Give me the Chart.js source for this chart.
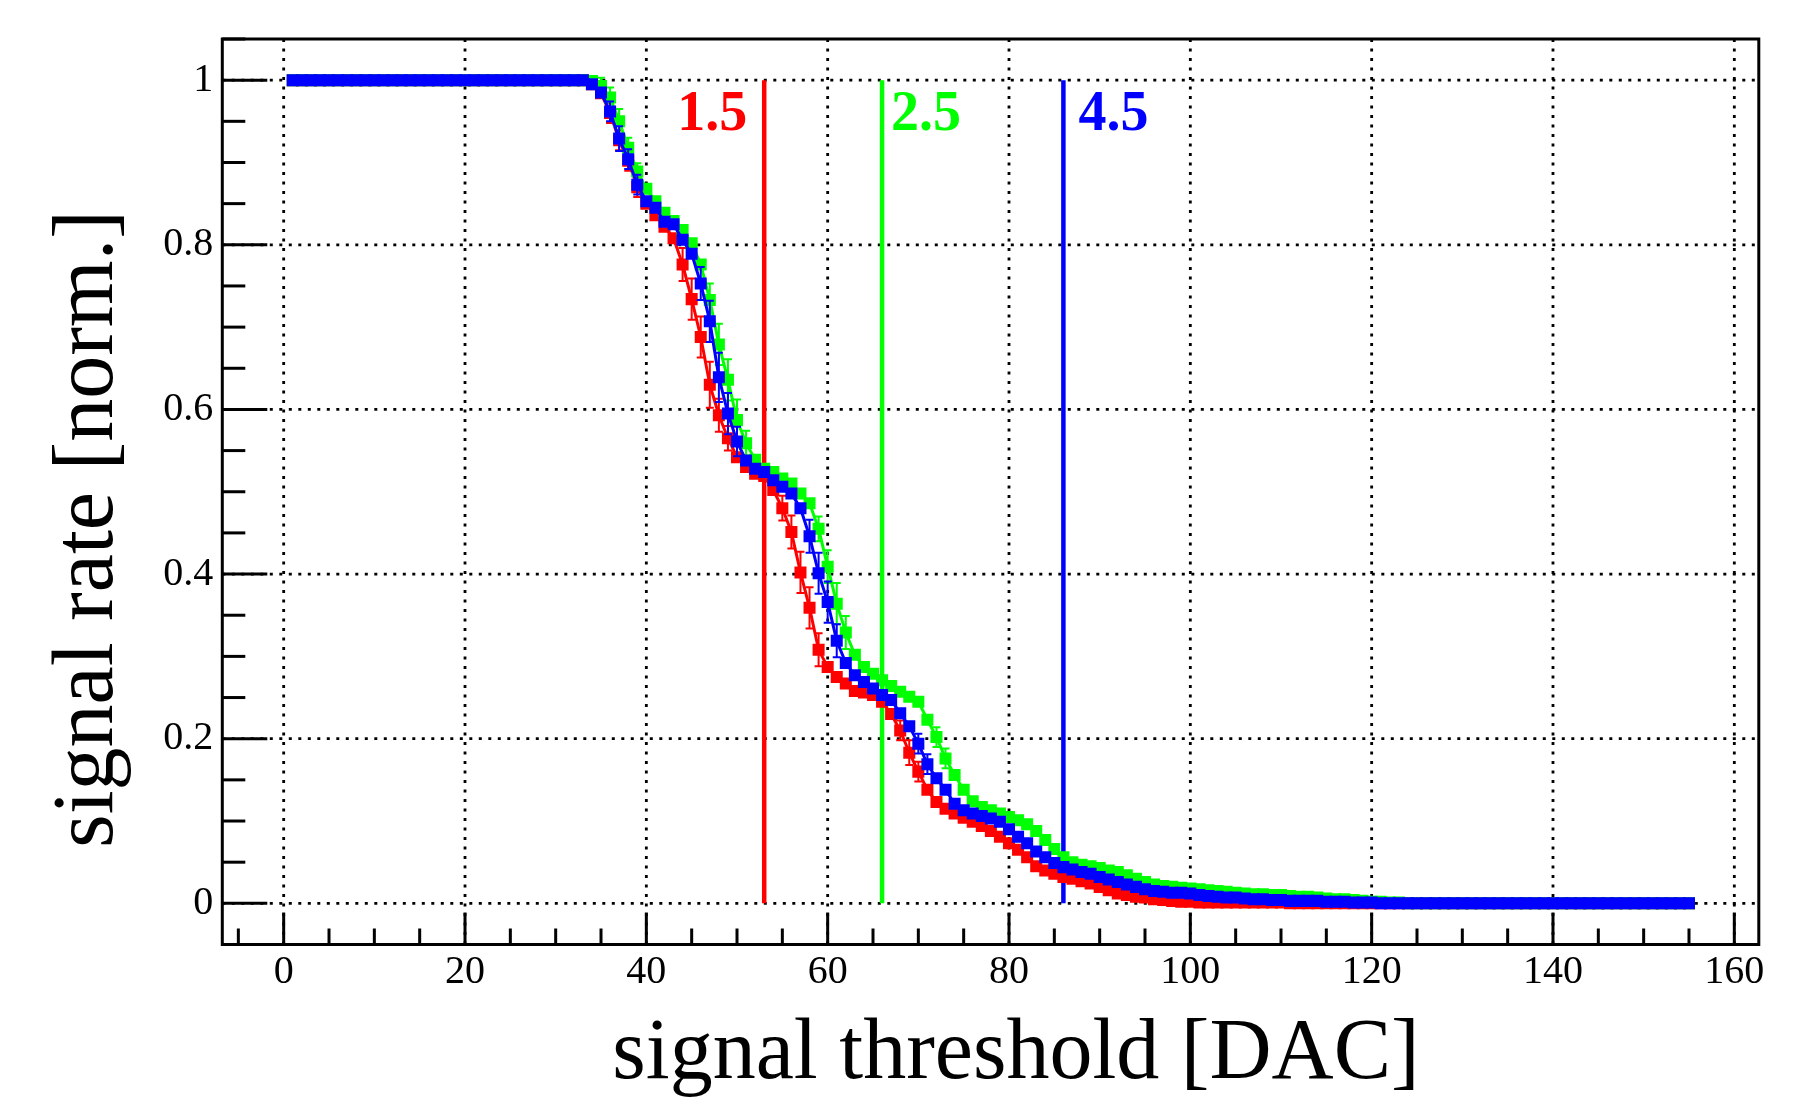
<!DOCTYPE html>
<html><head><meta charset="utf-8">
<script src="https://cdn.jsdelivr.net/npm/chart.js@4.4.1/dist/chart.umd.min.js"></script>
<style>html,body{margin:0;padding:0;background:#fff;}canvas{display:block;}</style>
</head><body>
<canvas id="c" width="1806" height="1098" style="width:1806px;height:1098px"></canvas>
<script>
// ---- data ----
const thresholds = [
  1,2,3,4,5,6,7,8,9,10,
  11,12,13,14,15,16,17,18,19,20,
  21,22,23,24,25,26,27,28,29,30,
  31,32,33,34,35,36,37,38,39,40,
  41,42,43,44,45,46,47,48,49,50,
  51,52,53,54,55,56,57,58,59,60,
  61,62,63,64,65,66,67,68,69,70,
  71,72,73,74,75,76,77,78,79,80,
  81,82,83,84,85,86,87,88,89,90,
  91,92,93,94,95,96,97,98,99,100,
  101,102,103,104,105,106,107,108,109,110,
  111,112,113,114,115,116,117,118,119,120,
  121,122,123,124,125,126,127,128,129,130,
  131,132,133,134,135,136,137,138,139,140,
  141,142,143,144,145,146,147,148,149,150,
  151,152,153,154,155
];
const rate15 = [
  1,1,1,1,1,1,1,1,1,1,
  1,1,1,1,1,1,1,1,1,1,
  1,1,1,1,1,1,1,1,1,1,
  1,1,1,0.995,0.984,0.960,0.927,0.902,0.870,0.850,
  0.836,0.822,0.808,0.776,0.734,0.688,0.630,0.593,0.565,0.542,
  0.530,0.522,0.519,0.502,0.480,0.451,0.402,0.359,0.308,0.287,
  0.275,0.267,0.258,0.256,0.253,0.245,0.230,0.210,0.183,0.160,
  0.138,0.123,0.115,0.109,0.104,0.099,0.094,0.088,0.081,0.073,
  0.065,0.056,0.045,0.040,0.036,0.032,0.030,0.027,0.024,0.020,
  0.016,0.012,0.010,0.008,0.007,0.005,0.004,0.003,0.002,0.002,
  0.001,0.001,0.001,0.001,0.001,0.001,0.001,0.001,0.001,0.001,
  0,0,0,0,0,0,0,0,0,0,
  0,0,0,0,0,0,0,0,0,0,
  0,0,0,0,0,0,0,0,0,0,
  0,0,0,0,0,0,0,0,0,0,
  0,0,0,0,0
];
const rate25 = [
  1,1,1,1,1,1,1,1,1,1,
  1,1,1,1,1,1,1,1,1,1,
  1,1,1,1,1,1,1,1,1,1,
  1,1,1,0.999,0.993,0.979,0.950,0.918,0.889,0.868,
  0.853,0.839,0.829,0.818,0.802,0.776,0.733,0.679,0.636,0.587,
  0.559,0.539,0.528,0.524,0.516,0.510,0.498,0.486,0.455,0.409,
  0.364,0.329,0.302,0.287,0.279,0.271,0.264,0.257,0.251,0.245,
  0.223,0.202,0.176,0.156,0.138,0.124,0.117,0.113,0.109,0.105,
  0.101,0.096,0.088,0.077,0.066,0.056,0.050,0.047,0.045,0.043,
  0.040,0.038,0.034,0.030,0.026,0.023,0.021,0.020,0.019,0.018,
  0.017,0.016,0.015,0.014,0.013,0.012,0.011,0.011,0.010,0.010,
  0.009,0.008,0.008,0.007,0.006,0.005,0.005,0.004,0.003,0.002,
  0.002,0.001,0.001,0,0,0,0,0,0,0,
  0,0,0,0,0,0,0,0,0,0,
  0,0,0,0,0,0,0,0,0,0,
  0,0,0,0,0
];
const rate45 = [
  1,1,1,1,1,1,1,1,1,1,
  1,1,1,1,1,1,1,1,1,1,
  1,1,1,1,1,1,1,1,1,1,
  1,1,1,0.995,0.985,0.962,0.929,0.904,0.873,0.853,
  0.845,0.828,0.825,0.806,0.789,0.753,0.707,0.639,0.595,0.561,
  0.538,0.528,0.524,0.514,0.506,0.498,0.480,0.446,0.401,0.366,
  0.319,0.292,0.277,0.269,0.261,0.253,0.247,0.231,0.215,0.194,
  0.169,0.152,0.138,0.121,0.113,0.109,0.106,0.103,0.099,0.090,
  0.081,0.073,0.063,0.056,0.049,0.044,0.041,0.038,0.036,0.032,
  0.029,0.026,0.023,0.020,0.017,0.015,0.014,0.013,0.013,0.012,
  0.010,0.009,0.008,0.007,0.007,0.006,0.005,0.005,0.004,0.004,
  0.003,0.003,0.003,0.003,0.002,0.002,0.002,0.001,0.001,0.001,
  0,0,0,0,0,0,0,0,0,0,
  0,0,0,0,0,0,0,0,0,0,
  0,0,0,0,0,0,0,0,0,0,
  0,0,0,0,0
];
// error bars (only where visible outside the markers)
const err15X = [36,37,38,39,44,45,46,47,48,49,55,56,57,58,59,68,69,70];
const err15  = [0.012,0.012,0.012,0.012,0.02,0.025,0.025,0.028,0.02,0.015,0.015,0.02,0.025,0.025,0.02,0.012,0.015,0.012];
const err25X = [35,36,37,38,39,47,48,49,50,51,59,60,61,62,72,73];
const err25  = [0.01,0.012,0.015,0.012,0.01,0.02,0.025,0.025,0.025,0.015,0.015,0.02,0.025,0.02,0.012,0.012];
const err45X = [36,37,38,39,46,47,48,49,50,58,59,60,61,70,71];
const err45  = [0.012,0.015,0.012,0.012,0.02,0.025,0.03,0.025,0.018,0.02,0.025,0.025,0.02,0.012,0.012];

const cutPositions = [53, 66, 86];
const cutLabels = ['1.5', '2.5', '4.5'];
const xTicks = [0,20,40,60,80,100,120,140,160];
const xTickLabels = ['0','20','40','60','80','100','120','140','160'];
const xMinorTicks = [-5,0,5,10,15,20,25,30,35,40,45,50,55,60,65,70,75,80,85,90,95,100,105,110,115,120,125,130,135,140,145,150,155,160];
const yTicks = [0,0.2,0.4,0.6,0.8,1];
const yTickLabels = ['0','0.2','0.4','0.6','0.8','1'];
const yMinorTicks = [0,0.05,0.1,0.15,0.2,0.25,0.3,0.35,0.4,0.45,0.5,0.55,0.6,0.65,0.7,0.75,0.8,0.85,0.9,0.95,1,1.05];
const xTitle = 'signal threshold [DAC]';
const yTitle = 'signal rate [norm.]';

// ---- build ----
const FONT = "'Liberation Serif','Times New Roman',serif";
const COLORS = ['#ff0000', '#00ff00', '#0000ff'];
const series = [rate15, rate25, rate45];
const errs = [[err15X, err15], [err25X, err25], [err45X, err45]];

function pts(vals) { return thresholds.map((t, i) => ({x: t, y: vals[i]})); }

const datasets = [];
series.forEach((vals, k) => {
  datasets.push({
    data: pts(vals), errIndex: k,
    borderColor: COLORS[k], backgroundColor: COLORS[k], borderWidth: 3,
    pointStyle: 'rect', pointRadius: 8.5, pointBorderWidth: 0,
    pointBackgroundColor: COLORS[k], tension: 0, fill: false,
    order: 2 - k
  });
});
cutPositions.forEach((c, k) => {
  datasets.push({
    data: [{x: c, y: 0}, {x: c, y: 1}],
    borderColor: COLORS[k], borderWidth: 4.5, pointRadius: 0, fill: false, order: 10
  });
});

const frame = {
  id: 'frame',
  beforeDatasetsDraw(chart) {
    const {ctx, chartArea: a, scales: {x, y}} = chart;
    ctx.save();
    ctx.strokeStyle = '#000';
    // dotted grid
    ctx.lineWidth = 2.8; ctx.setLineDash([3, 6.5]);
    xTicks.forEach(v => { const p = x.getPixelForValue(v); ctx.beginPath(); ctx.moveTo(p, a.bottom); ctx.lineTo(p, a.top); ctx.stroke(); });
    yTicks.forEach(v => { const p = y.getPixelForValue(v); ctx.beginPath(); ctx.moveTo(a.left, p); ctx.lineTo(a.right, p); ctx.stroke(); });
    ctx.setLineDash([]);
    ctx.lineWidth = 3;
    xMinorTicks.forEach(v => {
      const p = x.getPixelForValue(v); const len = xTicks.includes(v) ? 32 : 16;
      ctx.beginPath(); ctx.moveTo(p, a.bottom); ctx.lineTo(p, a.bottom - len); ctx.stroke();
    });
    yMinorTicks.forEach(v => {
      const p = y.getPixelForValue(v); const len = yTicks.includes(v) ? 45 : 23;
      ctx.beginPath(); ctx.moveTo(a.left, p); ctx.lineTo(a.left + len, p); ctx.stroke();
    });
    ctx.strokeRect(a.left, a.top, a.right - a.left, a.bottom - a.top);
    ctx.restore();
  },
  afterDatasetDraw(chart, args) {
    const ds = chart.data.datasets[args.index];
    if (ds.errIndex === undefined) return;
    const {ctx, scales: {x, y}} = chart;
    const [ex, ev] = errs[ds.errIndex];
    const vals = series[ds.errIndex];
    ctx.save();
    ctx.strokeStyle = COLORS[ds.errIndex]; ctx.lineWidth = 2;
    ex.forEach((t, i) => {
      const yv = vals[thresholds.indexOf(t)];
      const px = x.getPixelForValue(t), p1 = y.getPixelForValue(yv + ev[i]), p2 = y.getPixelForValue(yv - ev[i]);
      ctx.beginPath(); ctx.moveTo(px, p1); ctx.lineTo(px, p2);
      ctx.moveTo(px - 4, p1); ctx.lineTo(px + 4, p1);
      ctx.moveTo(px - 4, p2); ctx.lineTo(px + 4, p2);
      ctx.stroke();
    });
    ctx.restore();
  },
  afterDraw(chart) {
    const {ctx, scales: {x, y}} = chart;
    ctx.save();
    // cut labels
    ctx.font = 'bold 56px ' + FONT; ctx.textBaseline = 'alphabetic';
    const base = y.getPixelForValue(0.94);
    const gaps = [-17, 9, 15];
    cutLabels.forEach((t, k) => {
      const p = x.getPixelForValue(cutPositions[k]);
      ctx.fillStyle = COLORS[k];
      ctx.textAlign = k === 0 ? 'right' : 'left';
      ctx.fillText(t, p + gaps[k], base);
    });
    // axis titles
    ctx.fillStyle = '#000';
    ctx.font = '86px ' + FONT;
    ctx.textAlign = 'center';
    ctx.fillText(xTitle, 1016, 1078);
    ctx.translate(112, 529); ctx.rotate(-Math.PI / 2);
    ctx.fillText(yTitle, 0, 0);
    ctx.restore();
  }
};

new Chart(document.getElementById('c'), {
  type: 'line',
  data: {datasets},
  options: {
    responsive: false, animation: false, devicePixelRatio: 1,
    layout: {padding: {left: 0, right: 47.2, top: 39, bottom: 0}},
    plugins: {legend: {display: false}, tooltip: {enabled: false}},
    scales: {
      x: {
        type: 'linear', min: -6.77, max: 162.7,
        grid: {display: false, drawTicks: false}, border: {display: false},
        afterBuildTicks: s => { s.ticks = xTicks.map(v => ({value: v})); },
        afterFit: s => { s.height = 153.5; },
        ticks: {callback: v => xTickLabels[xTicks.indexOf(v)], font: {family: FONT, size: 40}, color: '#000', padding: 4, maxRotation: 0, autoSkip: false}
      },
      y: {
        type: 'linear', min: -0.05, max: 1.05,
        grid: {display: false, drawTicks: false}, border: {display: false},
        afterBuildTicks: s => { s.ticks = yTicks.map(v => ({value: v})); },
        afterFit: s => { s.width = 222.3; },
        ticks: {callback: v => yTickLabels[yTicks.indexOf(v)], font: {family: FONT, size: 40}, color: '#000', padding: 9, autoSkip: false}
      }
    }
  },
  plugins: [frame]
});
</script>
</body></html>
